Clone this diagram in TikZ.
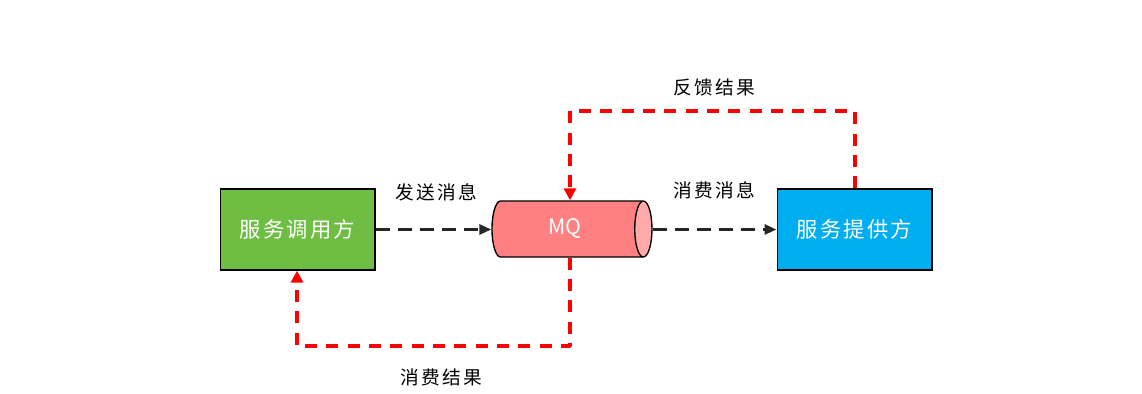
\documentclass[tikz,border=0pt]{standalone}
\usepackage{fontspec}
\newfontfamily\cjk[LetterSpace=10]{Noto Sans CJK SC}
\newfontfamily\cjklbl[LetterSpace=12]{Noto Sans CJK SC}
\newfontfamily\cjkplain{Noto Sans CJK SC}
\usetikzlibrary{arrows.meta,positioning,shapes.geometric}
\definecolor{callgreen}{HTML}{6FBE44}
\definecolor{provblue}{HTML}{00AEEF}
\definecolor{mqred}{HTML}{FF8080}
\definecolor{mqend}{HTML}{FFAAAA}
\definecolor{fbred}{HTML}{FF0000}

\begin{document}
\begin{tikzpicture}[x=0.75pt, y=-0.75pt,
    box/.style={draw=black, line width=1pt, minimum width=116pt, minimum height=60.75pt,
      text=white, font=\cjk\fontsize{16}{18}\selectfont},
    mqcyl/.style={cylinder, shape aspect=0.6, draw=black, line width=1pt,
      minimum width=42pt, minimum height=120pt, cylinder uses custom fill,
      cylinder body fill=mqred, cylinder end fill=mqend,
      text=white, font=\cjkplain\fontsize{16}{18}\selectfont},
    msg/.style={draw=black!85, line width=2.5pt, dash pattern=on 10.5pt off 6pt,
      -{Triangle[length=9pt, width=7.5pt]}},
    fb/.style={draw=fbred, line width=2.7pt, dash pattern=on 9pt off 7pt, line join=round,
      -{Triangle[length=9pt, width=9pt]}},
    lbl/.style={font=\cjklbl\fontsize{14}{16}\selectfont, inner sep=1pt}]

\useasboundingbox (0,0) rectangle (1142,393);

% Boxes and queue
\node[box, fill=callgreen] (caller) at (297.5,229.5) {服务调用方};
\node[mqcyl] (mq) at (565,229) {MQ};
\node[box, fill=provblue] (provider) at (854.5,229.5) {服务提供方};

% Message flow (black, dashed)
\draw[msg] (caller.east) -- (mq.west |- caller.east);
\draw[msg] (mq.east |- provider.west) -- (provider.west);

\node[lbl] (sendLbl) at (436,192) {发送消息};
\node[lbl] (consLbl) at (714,190) {消费消息};

% Feedback loops (red, dashed)
\coordinate (fbR) at (855,111);
\coordinate (fbL) at (570,111);
\draw[fb] (fbR |- provider.north) -- (fbR) -- (fbL) -- (fbL |- mq.north);
\node[lbl] (fbLbl) at (714,87) {反馈结果};

\coordinate (crR) at (570,346);
\coordinate (crL) at (297,346);
\draw[fb] (crR |- mq.south) -- (crR) -- (crL) -- (crL |- caller.south);
\node[lbl] (crLbl) at (441,377) {消费结果};

\end{tikzpicture}
\end{document}
